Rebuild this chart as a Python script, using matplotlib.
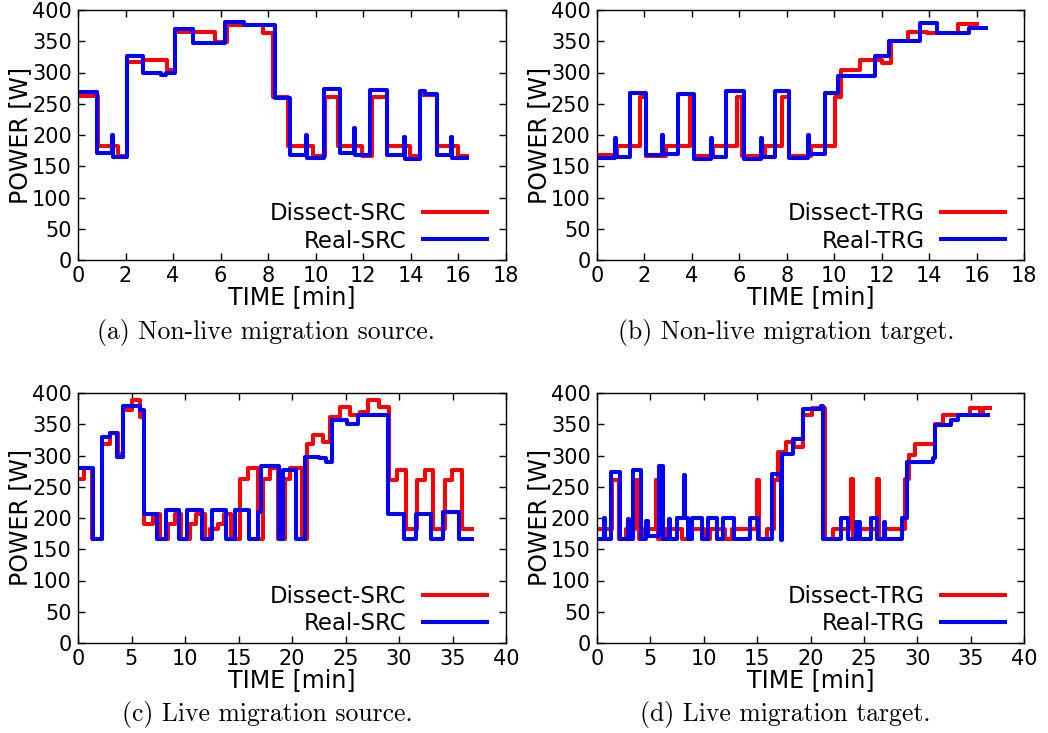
import matplotlib
matplotlib.use("Agg")
import matplotlib.pyplot as plt
import numpy as np

# ---------------- data (time [min], power [W]) ----------------
# (a) Non-live migration source
a_dis_t = [0, 0.85, 1.7, 2.05, 2.75, 3.73, 4.08, 5.76, 6.25, 7.8, 8.2, 8.85, 9.9, 10.4,
           10.95, 11.93, 12.35, 13.0, 13.97, 14.4, 15.1, 16.0, 16.35]
a_dis_v = [262, 182, 166, 317, 320, 304, 365, 349, 376, 363, 261, 182, 166, 261,
           182, 166, 261, 182, 166, 264, 182, 166, 166]
a_real_t = [0, 0.79, 1.42, 1.47, 2.05, 2.75, 3.5, 3.7, 4.1, 4.85, 6.2, 7.0, 8.3, 8.9,
            9.6, 9.65, 10.35, 11.0, 11.6, 11.65, 12.3, 13.0, 13.7, 13.75, 14.4, 14.6,
            15.1, 15.7, 15.75, 16.35]
a_real_v = [269, 171, 200, 165, 326, 299, 296, 300, 370, 347, 381, 376, 260, 168,
            200, 163, 273, 171, 211, 168, 272, 168, 197, 161, 271, 266,
            168, 197, 163, 163]

# (b) Non-live migration target
b_dis_t = [0, 0.85, 1.8, 2.05, 2.9, 3.9, 4.1, 4.9, 5.9, 6.1, 7.1, 7.8, 8.1, 9.0, 10.05,
           10.3, 11.1, 12.0, 12.4, 13.1, 13.9, 15.2, 16.0]
b_dis_v = [168, 182, 261, 166, 182, 261, 166, 182, 261, 166, 182, 261, 166, 182, 261,
           304, 320, 315, 350, 365, 363, 378, 378]
b_real_t = [0, 0.75, 0.8, 1.4, 2.05, 2.75, 2.8, 3.4, 4.1, 4.8, 4.85, 5.45, 6.2, 6.9,
            6.95, 7.5, 8.1, 8.9, 8.95, 9.6, 10.15, 11.7, 12.3, 13.6, 14.35, 15.7, 16.4]
b_real_v = [163, 196, 165, 268, 168, 200, 170, 266, 161, 195, 165, 270, 161, 195,
            165, 270, 164, 200, 170, 268, 294, 326, 351, 380, 363, 371, 371]

# (c) Live migration source
c_dis_t = [0, 0.6, 1.35, 2.2, 2.95, 3.75, 4.2, 5.0, 5.75, 6.2, 7.0, 7.65, 8.4, 9.05,
           9.65, 10.45, 11.05, 11.85, 12.3, 13.1, 13.6, 14.3, 15.1, 15.9, 16.8, 17.3,
           17.9, 18.7, 19.3, 19.8, 20.9, 21.4, 22.0, 22.9, 23.55, 24.5, 25.4, 26.35,
           27.1, 28.1, 29.1, 29.8, 30.7, 31.65, 32.4, 33.2, 34.3, 34.95, 35.9, 36.8]
c_dis_v = [263, 280, 167, 319, 336, 302, 373, 389, 362, 191, 207, 167, 191, 207,
           167, 191, 207, 167, 183, 191, 207, 167, 263, 280, 167, 263,
           280, 167, 263, 280, 167, 319, 333, 322, 362, 378, 365, 370,
           389, 378, 261, 277, 183, 261, 277, 183, 261, 277, 183, 183]
c_real_t = [0, 1.4, 2.2, 3.0, 3.6, 4.2, 5.75, 6.2, 7.4, 8.25, 9.45, 10.2, 11.6, 12.55,
            13.8, 14.7, 16.0, 16.8, 17.1, 18.8, 19.2, 20.4, 21.2, 22.5, 23.2, 23.7,
            25.1, 26.2, 29.0, 30.5, 31.6, 33.0, 34.1, 35.6, 36.8]
c_real_v = [280, 167, 330, 336, 298, 379, 373, 207, 167, 213, 167, 213, 167, 213,
            167, 213, 167, 210, 283, 167, 277, 167, 298, 296, 290, 357,
            351, 365, 207, 167, 207, 167, 210, 167, 167]

# (d) Live migration target
d_dis_t = [0, 1.4, 2.05, 2.7, 3.55, 3.9, 4.4, 5.55, 5.7, 6.5, 8.0, 8.6, 10.0, 10.6,
           12.0, 12.6, 15.0, 15.2, 15.9, 16.55, 17.0, 17.75, 18.5, 19.3, 20.1, 21.35,
           22.1, 23.75, 23.95, 24.5, 26.2, 26.4, 26.9, 28.85, 29.2, 29.8, 31.65, 32.4,
           34.95, 35.85, 36.15, 36.8]
d_dis_v = [183, 261, 166, 183, 261, 166, 183, 261, 166, 183, 166, 183, 166, 183,
           166, 183, 261, 166, 183, 261, 306, 322, 314, 365, 376, 166,
           183, 263, 167, 183, 263, 167, 183, 263, 301, 319, 351, 365,
           376, 367, 376, 376]
d_real_t = [0, 0.65, 0.75, 1.3, 2.15, 2.9, 3.0, 3.4, 4.15, 4.6, 4.75, 5.8, 6.2, 6.7,
            6.8, 7.5, 8.15, 8.25, 8.5, 8.9, 9.8, 10.4, 11.2, 11.8, 12.8, 14.3, 15.1,
            16.4, 17.2, 17.3, 18.4, 19.3, 21.0, 21.2, 22.9, 23.5, 24.3, 24.6, 25.7,
            26.2, 26.9, 27.0, 28.6, 29.0, 31.5, 31.65, 33.2, 33.8, 36.6]
d_real_v = [167, 200, 167, 273, 167, 198, 167, 277, 167, 195, 172, 283, 167, 198,
            167, 200, 269, 200, 167, 200, 167, 200, 167, 200, 167, 200, 167,
            270, 165, 303, 327, 374, 380, 167, 200, 167, 194, 167, 200,
            167, 194, 167, 200, 290, 296, 349, 357, 365, 365]

panels = [
    ("a", a_dis_t, a_dis_v, a_real_t, a_real_v, "SRC", 18, 2,
     "(a) Non-live migration source."),
    ("b", b_dis_t, b_dis_v, b_real_t, b_real_v, "TRG", 18, 2,
     "(b) Non-live migration target."),
    ("c", c_dis_t, c_dis_v, c_real_t, c_real_v, "SRC", 40, 5,
     "(c) Live migration source."),
    ("d", d_dis_t, d_dis_v, d_real_t, d_real_v, "TRG", 40, 5,
     "(d) Live migration target."),
]

W, H = 1048, 733
fig = plt.figure(figsize=(W / 100, H / 100), dpi=100)

boxes = {"a": (78, 10, 506, 260), "b": (597, 10, 1024, 260),
         "c": (78, 393, 506, 643), "d": (597, 393, 1024, 643)}
cap_pos = {"a": (266, 333), "b": (786, 333), "c": (267, 715), "d": (785, 715)}

for key, dt, dv, rt, rv, tag, xmax, xstep, caption in panels:
    x0, y0, x1, y1 = boxes[key]
    ax = fig.add_axes([x0 / W, 1 - y1 / H, (x1 - x0) / W, (y1 - y0) / H])
    ax.plot(dt, dv, drawstyle="steps-post", color="#ff0000", lw=2.9,
            label="Dissect-" + tag)
    ax.plot(rt, rv, drawstyle="steps-post", color="#0000ff", lw=2.9,
            label="Real-" + tag)
    ax.set_xlim(0, xmax)
    ax.set_ylim(0, 400)
    ax.set_xticks(np.arange(0, xmax + 0.1, xstep))
    ax.set_yticks(np.arange(0, 401, 50))
    ax.tick_params(direction="in", top=True, right=True, length=5, width=1,
                   pad=4.5, labelsize=15)
    for s in ax.spines.values():
        s.set_linewidth(1.0)
    ax.set_xlabel("TIME [min]", fontsize=17, labelpad=-1)
    ax.set_ylabel("POWER [W]", fontsize=17, labelpad=0)
    leg = ax.legend(loc="lower right", bbox_to_anchor=(0.955, 0.03),
                    frameon=False, markerfirst=False,
                    prop=dict(family="DejaVu Sans", size=16.5),
                    handlelength=2.8, handletextpad=0.7, labelspacing=0.18,
                    borderaxespad=0.0, borderpad=0.0)
    cx, cy = cap_pos[key]
    fig.text(cx / W, 1 - cy / H, caption, ha="center", va="center",
             fontfamily="cmr10", fontsize=18.5)

fig.savefig("out.png", dpi=100)
